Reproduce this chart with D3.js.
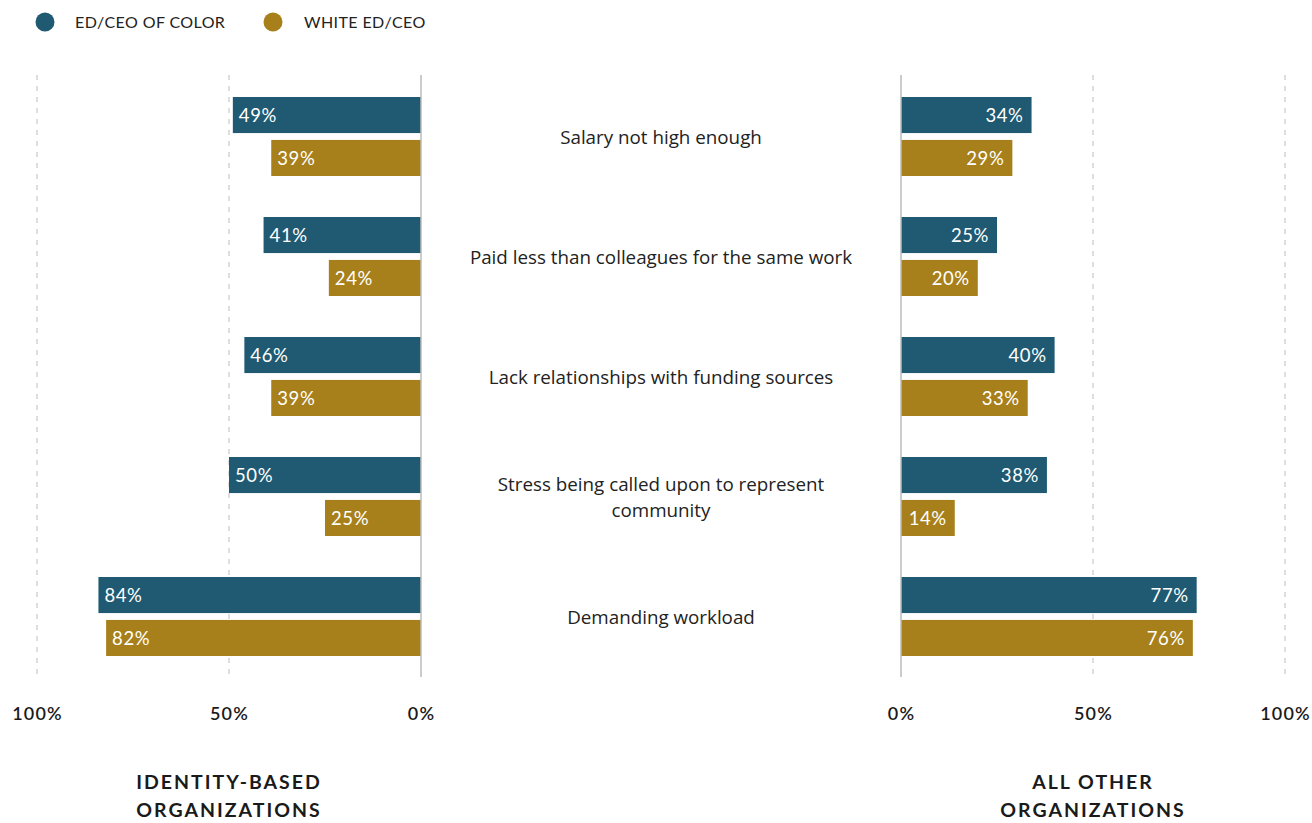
<!DOCTYPE html>
<html><head><meta charset="utf-8">
<script src="https://cdn.jsdelivr.net/npm/d3@7"></script>
<style>body{margin:0;background:#fff;} svg{display:block;}</style>
</head><body>
<svg id="chart" width="1312" height="823"></svg>
<script>
const categories = ["Salary not high enough","Paid less than colleagues for the same work","Lack relationships with funding sources","Stress being called upon to represent|community","Demanding workload"];
const seriesNames = ["ED/CEO OF COLOR","WHITE ED/CEO"];
const identityColor = [49,41,46,50,84];
const identityWhite = [39,24,39,25,82];
const otherColor = [34,25,40,38,77];
const otherWhite = [29,20,33,14,76];
const ticks = [0,50,100];
const panelTitles = ["IDENTITY-BASED|ORGANIZATIONS","ALL OTHER|ORGANIZATIONS"];
const colors = ["#1f5a72","#a8801b"];

const svg = d3.select("#chart");
const font = "Lato, 'Open Sans', sans-serif";
const font2 = "'Open Sans', Lato, sans-serif";

const xL = d3.scaleLinear().domain([0,100]).range([421,37]);
const xR = d3.scaleLinear().domain([0,100]).range([901,1285]);
const y = d3.scaleBand().domain(categories).range([77,677]);
const inner = d3.scaleBand().domain([0,1]).range([20,99]).paddingInner(0.16);

// legend
const leg = svg.append("g");
[[45,75],[273,304]].forEach((p,i)=>{
  leg.append("circle").attr("cx",p[0]).attr("cy",22).attr("r",9.5).attr("fill",colors[i]);
  leg.append("text").attr("x",p[1]).attr("y",28).attr("font-family",font).attr("font-size",16).attr("font-weight",400).attr("fill","#222").attr("letter-spacing","0.4").text(seriesNames[i]);
});

function panel(x, data, side){
  const g = svg.append("g");
  ticks.filter(t=>t>0).forEach(t=>{
    g.append("line").attr("x1",x(t)).attr("x2",x(t)).attr("y1",75).attr("y2",677)
      .attr("stroke","#bdbdbd").attr("stroke-width",1).attr("stroke-dasharray","5,6");
  });
  const axis = d3.axisBottom(x).tickValues(ticks).tickFormat(d=>d+"%").tickSize(0);
  const ag = g.append("g").attr("transform","translate(0,704)").call(axis);
  ag.select(".domain").remove();
  ag.selectAll("text").attr("font-family",font).attr("font-size",18).attr("font-weight",600).attr("letter-spacing","1.2").attr("fill","#1a1a1a").attr("dy","0.71em");
  data.forEach((vals,si)=>{
    g.selectAll(null).data(categories).enter().append("rect")
      .attr("x",(c,i)=> side==="L" ? x(vals[i]) : x(0))
      .attr("width",(c,i)=> Math.abs(x(vals[i])-x(0)))
      .attr("y",c=>y(c)+inner(si))
      .attr("height",inner.bandwidth())
      .attr("fill",colors[si]);
    g.selectAll(null).data(categories).enter().append("text")
      .attr("x",(c,i)=> side==="L" ? x(vals[i])+6 : x(vals[i])-8)
      .attr("y",c=>y(c)+inner(si)+inner.bandwidth()/2)
      .attr("dy","0.36em")
      .attr("text-anchor", side==="L" ? "start" : "end")
      .attr("font-family",font).attr("font-size",18.5).attr("letter-spacing","0.6").attr("fill","#fff")
      .text((c,i)=>vals[i]+"%");
  });
  g.append("line").attr("x1",x(0)).attr("x2",x(0)).attr("y1",75).attr("y2",677).attr("stroke","#bbb").attr("stroke-width",1.5);
}
panel(xL,[identityColor,identityWhite],"L");
panel(xR,[otherColor,otherWhite],"R");

categories.forEach(c=>{
  const lines = c.split("|");
  const cy = y(c)+y.bandwidth()/2;
  const t = svg.append("text").attr("text-anchor","middle").attr("font-family",font2).attr("font-size",18.8).attr("fill","#222");
  lines.forEach((l,k)=>{
    t.append("tspan").attr("x",661).attr("y",cy + (k-(lines.length-1)/2)*26).attr("dy","0.35em").text(l);
  });
});

[[229,panelTitles[0]],[1093,panelTitles[1]]].forEach(([cx,title])=>{
  const t = svg.append("text").attr("text-anchor","middle").attr("font-family",font).attr("font-size",19.5).attr("font-weight",700).attr("fill","#1a1a1a").attr("letter-spacing","2");
  title.split("|").forEach((l,k)=>{
    t.append("tspan").attr("x",cx).attr("y",789+k*28).text(l);
  });
});
</script>
</body></html>
